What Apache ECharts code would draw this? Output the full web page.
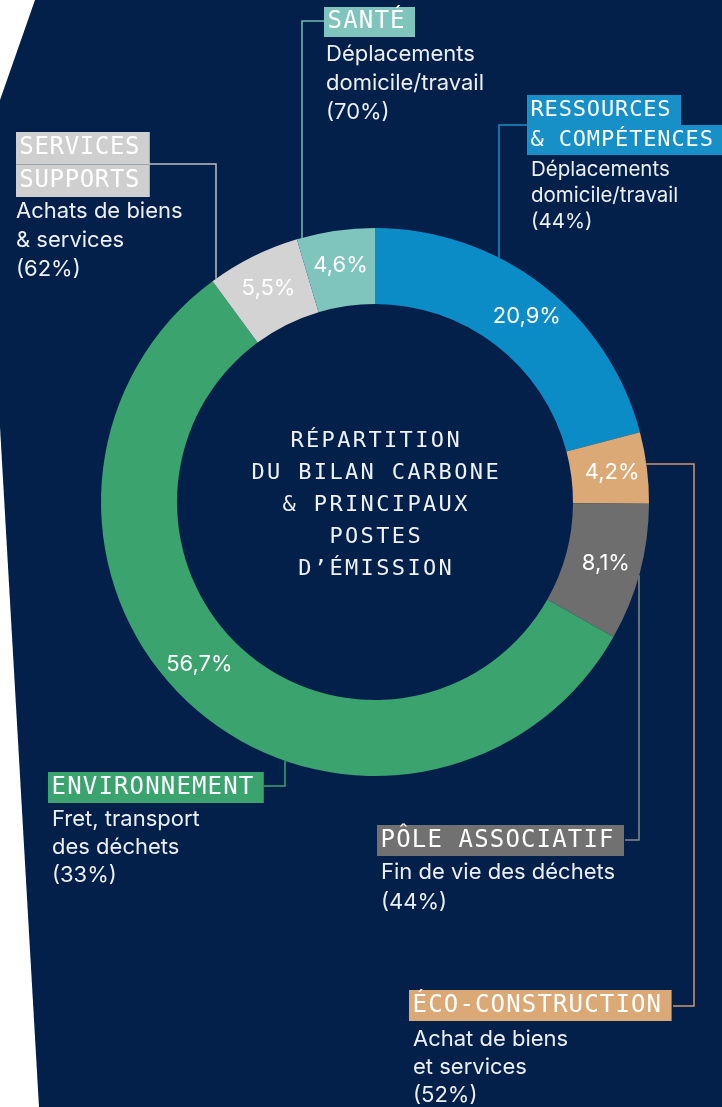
<!DOCTYPE html>
<html>
<head>
<meta charset="utf-8">
<script src="https://cdn.jsdelivr.net/npm/echarts@6/dist/echarts.min.js"></script>
<style>
  html, body { margin: 0; padding: 0; background: #ffffff; }
  #chart { width: 722px; height: 1107px; }
</style>
</head>
<body>
<div id="chart"></div>
<script>
// ---------- data ----------
const categories = ['RESSOURCES\n& COMPÉTENCES', 'ÉCO-CONSTRUCTION', 'PÔLE ASSOCIATIF', 'ENVIRONNEMENT', 'SERVICES\nSUPPORTS', 'SANTÉ'];
const shares = [20.9, 4.2, 8.1, 56.7, 5.5, 4.6];
const mainPosts = ['Déplacements\ndomicile/travail', 'Achat de biens\net services', 'Fin de vie des déchets', 'Fret, transport\ndes déchets', 'Achats de biens\n& services', 'Déplacements\ndomicile/travail'];
const mainPostShares = [44, 52, 44, 33, 62, 70];
const centerTitle = ['RÉPARTITION', 'DU BILAN CARBONE', '& PRINCIPAUX', 'POSTES', 'D’ÉMISSION'];

// ---------- styles / layout ----------
const sliceColors = ['#0b8cc6', '#dba975', '#6e6e6e', '#3aa36e', '#d3d3d3', '#80c4be'];
const boxColors = ['#1790c8', '#dba975', '#717171', '#3aa36e', '#cfcfcf', '#80c4be'];
const lineColors = ['#1a8fc8', '#c99a6c', '#8a8a8a', '#3aa36e', '#bdbdbd', '#74b9b3'];
const CX = 375, CY = 502, R_IN = 198, R_OUT = 274;
// annotation layout: box left/top, char cell width, font size, box line height, description pos
const layout = [
  { bx: 527, by: 95, cell: 14.1, fs: 22, bh: 30, dx: 531, dy: 157, dfs: 20.5, dlh: 26 },
  { bx: 409, by: 990, cell: 15.6, fs: 24, bh: 31, dx: 413, dy: 1025, dfs: 22, dlh: 28 },
  { bx: 377, by: 825, cell: 15.6, fs: 24, bh: 31, dx: 381, dy: 858, dfs: 22, dlh: 29.5 },
  { bx: 48, by: 772, cell: 15.6, fs: 24, bh: 31, dx: 52, dy: 805, dfs: 22, dlh: 28 },
  { bx: 16, by: 132, cell: 15.1, fs: 24, bh: 32.5, dx: 16, dy: 197, dfs: 22, dlh: 29 },
  { bx: 324, by: 7, cell: 15.6, fs: 24, bh: 30, dx: 326, dy: 40, dfs: 22, dlh: 29 }
];
function topY(x) { return CY - Math.sqrt(R_OUT * R_OUT - (x - CX) * (x - CX)); }
function botY(x) { return CY + Math.sqrt(R_OUT * R_OUT - (x - CX) * (x - CX)); }
function rightX(y) { return CX + Math.sqrt(R_OUT * R_OUT - (y - CY) * (y - CY)); }
const leaderLines = [
  [[527, 125], [499, 125], [499, topY(499)]],
  [[rightX(464), 464], [694, 464], [694, 1006], [673, 1006]],
  [[639, botY(639)], [639, 840], [625, 840]],
  [[285, botY(285)], [285, 786], [264, 786]],
  [[149, 164], [216, 164], [216, topY(216)]],
  [[324, 21], [302, 21], [302, topY(302)]]
];

function spaced(str, key) {
  return Array.from(str).map(ch => '{' + key + '|' + ch + '}').join('');
}

const graphics = [];
// navy background shape
graphics.push({
  type: 'polygon', z: -10, silent: true,
  shape: { points: [[35, 0], [722, 0], [722, 1107], [39, 1107], [0, 427], [0, 100]] },
  style: { fill: '#03204a' }
});
// leader lines
leaderLines.forEach((pts, i) => {
  graphics.push({
    type: 'polyline', z: 1, silent: true,
    shape: { points: pts },
    style: { stroke: lineColors[i], lineWidth: 1.5, fill: null }
  });
});
// category boxes + descriptions
categories.forEach((cat, i) => {
  const L = layout[i];
  cat.split('\n').forEach((line, j) => {
    graphics.push({
      type: 'text', z: 10, silent: true,
      x: L.bx, y: L.by + j * L.bh,
      style: {
        text: spaced(line, 'c'),
        align: 'left', verticalAlign: 'top',
        backgroundColor: boxColors[i],
        padding: [0, 10, 0, 3],
        rich: {
          c: { width: L.cell, height: L.bh, lineHeight: L.bh, align: 'center',
               fontFamily: 'DejaVu Sans Mono', fontSize: L.fs, fill: '#ffffff' }
        }
      }
    });
  });
  graphics.push({
    type: 'text', z: 10, silent: true,
    x: L.dx, y: L.dy,
    style: {
      text: mainPosts[i] + '\n(' + mainPostShares[i] + '%)',
      align: 'left', verticalAlign: 'top',
      fontFamily: 'Inter', fontSize: L.dfs, lineHeight: L.dlh, fill: '#eceff4'
    }
  });
});
// center title
graphics.push({
  type: 'text', z: 10, silent: true,
  x: CX, y: 505,
  style: {
    text: centerTitle.map(l => spaced(l, 't')).join('\n'),
    align: 'center', verticalAlign: 'middle',
    rich: {
      t: { width: 15.6, height: 32, lineHeight: 32, align: 'center',
           fontFamily: 'DejaVu Sans Mono', fontSize: 22, fill: '#eef1f6' }
    }
  }
});

const chart = echarts.init(document.getElementById('chart'), null, { renderer: 'canvas' });
chart.setOption({
  animation: false,
  backgroundColor: 'transparent',
  graphic: graphics,
  series: [{
    type: 'pie',
    center: [CX, CY],
    radius: [R_IN, R_OUT],
    startAngle: 90,
    clockwise: true,
    avoidLabelOverlap: false,
    silent: true,
    label: {
      show: true, position: 'inside',
      color: '#ffffff', fontFamily: 'Inter', fontSize: 22,
      formatter: p => p.value.toFixed(1).replace('.', ',') + '%'
    },
    labelLine: { show: false },
    itemStyle: { borderWidth: 0 },
    data: shares.map((v, i) => {
      const item = { name: categories[i], value: v, itemStyle: { color: sliceColors[i] } };
      if (i === 3) item.label = { offset: [-17, -16] };
      if (i === 0) item.label = { offset: [6, 4] };
      return item;
    })
  }]
});
</script>
</body>
</html>
